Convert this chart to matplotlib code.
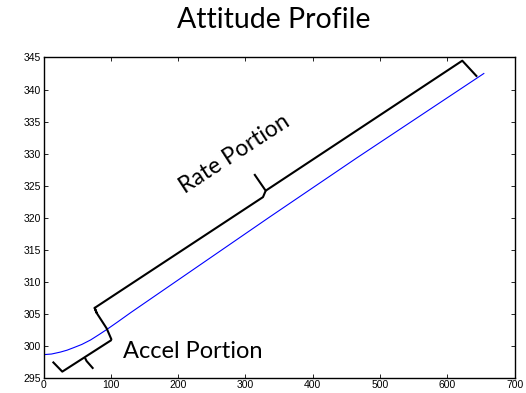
import matplotlib
matplotlib.use("Agg")
import matplotlib.pyplot as plt

# attitude trace (time, angle in deg)
time_s = [0, 12, 25, 35, 45, 57, 70, 82, 95, 110, 130, 336, 465, 654]
angle_deg = [298.6, 298.7, 299.0, 299.3, 299.7, 300.2, 300.9, 301.7, 302.6,
             303.7, 305.2, 320.1, 329.3, 342.5]

# bracket outlines
rate_x = [79.0, 76.0, 79.0, 93.8, 101.2]
rate_y = [305.1, 305.9, 305.1, 302.7, 300.9]
rate_arm_left_x = [76.0, 326.0, 330.0, 313.0]
rate_arm_left_y = [305.9, 323.2, 324.2, 326.8]
rate_arm_right_x = [330.0, 622.0, 644.0]
rate_arm_right_y = [324.2, 344.5, 342.0]
accel_x = [101.2, 27.9, 13.6]
accel_y = [300.9, 295.95, 297.5]
accel_tick_x = [61.6, 64.0, 74.0]
accel_tick_y = [298.1, 297.6, 296.4]

x_ticks = [0, 100, 200, 300, 400, 500, 600, 700]
y_ticks = [295, 300, 305, 310, 315, 320, 325, 330, 335, 340, 345]

fig = plt.figure(figsize=(5.26, 3.93), dpi=100)
ax = fig.add_axes([0.0827, 0.0389, 0.8960, 0.8148])

ax.plot(time_s, angle_deg, color="#0000ff", linewidth=0.8)

bk = dict(color="black", linewidth=1.5, solid_capstyle="butt", solid_joinstyle="round")
ax.plot(rate_x, rate_y, **bk)
ax.plot(rate_arm_left_x, rate_arm_left_y, **bk)
ax.plot(rate_arm_right_x, rate_arm_right_y, **bk)
ax.plot(accel_x, accel_y, **bk)
ax.plot(accel_tick_x, accel_tick_y, **bk)

ax.set_xlim(0, 700)
ax.set_ylim(295, 345)
ax.set_xticks(x_ticks)
ax.set_yticks(y_ticks)
ax.tick_params(direction="in", length=3, width=0.6, top=True, right=True,
               labelsize=7.5, pad=2)
for lbl in ax.get_xticklabels() + ax.get_yticklabels():
    lbl.set_family("Liberation Sans")
for sp in ax.spines.values():
    sp.set_linewidth(1.0)

ax.text(284, 330, "Rate Portion", rotation=33, ha="center", va="center",
        fontsize=16.5, family="Lato", rotation_mode="anchor")
ax.text(117.5, 298.0, "Accel Portion", ha="left", va="baseline",
        fontsize=17, family="Lato")

fig.text(0.52, 0.929, "Attitude Profile", ha="center", va="baseline",
         fontsize=20.5, family="Lato")

fig.savefig("out.png", dpi=100)
